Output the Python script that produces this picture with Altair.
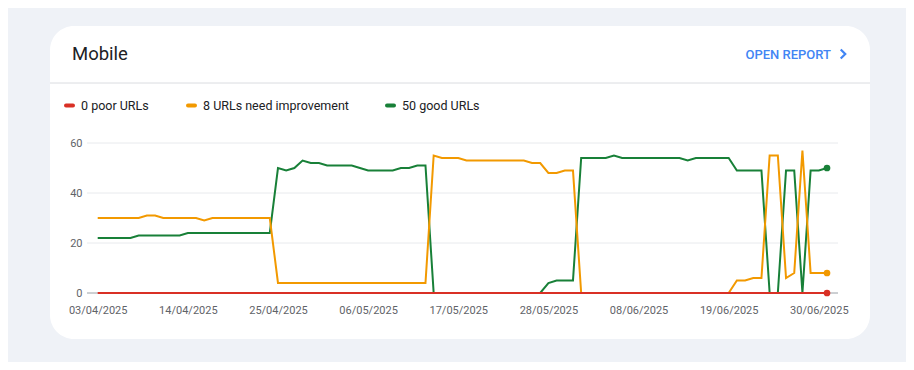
import json
import altair as alt
import pandas as pd

# ---------------- data ----------------
dates = pd.date_range("2025-04-03", "2025-07-01").strftime("%d/%m/%Y").tolist()  # 90 days
days = list(range(len(dates)))

tick_days = [0, 11, 22, 33, 44, 55, 66, 77, 88]
tick_labels = ["03/04/2025", "14/04/2025", "25/04/2025", "06/05/2025", "17/05/2025",
               "28/05/2025", "08/06/2025", "19/06/2025", "30/06/2025"]
y_ticks = [0, 20, 40, 60]

series_names = ["good", "need improvement", "poor"]
series_colors = ["#188038", "#f29900", "#d93025"]
legend_labels = ["0 poor URLs", "8 URLs need improvement", "50 good URLs"]
legend_colors = ["#d93025", "#f29900", "#188038"]

good = [22, 22, 22, 22, 22,
        23, 23, 23, 23, 23, 23,
        24, 24, 24, 24, 24, 24, 24, 24, 24, 24, 24,
        50, 49, 50, 53, 52, 52, 51, 51, 51, 51, 50, 49, 49, 49, 49, 50, 50, 51, 51,
        0, 0, 0, 0, 0, 0, 0, 0, 0, 0, 0, 0, 0, 0,
        4, 5, 5, 5,
        54, 54, 54, 54, 55, 54, 54, 54, 54, 54, 54, 54, 54, 53, 54, 54, 54, 54, 54,
        49, 49, 49, 49, 0, 0, 49, 49, 0, 49, 49, 50]

need = [30, 30, 30, 30, 30, 30, 31, 31, 30, 30, 30, 30, 30, 29,
        30, 30, 30, 30, 30, 30, 30, 30,
        4, 4, 4, 4, 4, 4, 4, 4, 4, 4, 4, 4, 4, 4, 4, 4, 4, 4, 4,
        55, 54, 54, 54, 53, 53, 53, 53, 53, 53, 53, 53, 52, 52, 48, 48, 49, 49,
        0, 0, 0, 0, 0, 0, 0, 0, 0, 0, 0, 0, 0, 0, 0, 0, 0, 0, 0,
        5, 5, 6, 6, 55, 55, 6, 8, 57, 8, 8, 8]

poor = [0] * 90

rows = []
for name, vals in zip(series_names, [good, need, poor]):
    for d, dt, v in zip(days, dates, vals):
        rows.append({"day": d, "date": dt, "series": name, "value": v})
df = pd.DataFrame(rows)

# ---------------- styling ----------------
FONT = "Roboto"
BG = "#eff2f7"
TXT = "#202124"
AX = "#5f6368"

one = alt.Data(values=[{"k": 1}])

x_scale = alt.Scale(domain=[-1.306, 90.342], nice=False, zero=False)
y_scale = alt.Scale(domain=[0, 60], nice=False)
color_scale = alt.Scale(domain=series_names, range=series_colors)

label_expr = json.dumps(tick_labels) + "[round(datum.value / 11)]"

card = alt.Chart(one).mark_rect(color="white", cornerRadius=24).encode(
    x=alt.value(-37), x2=alt.value(783), y=alt.value(-117), y2=alt.value(196))

sep = alt.Chart(one).mark_rule(color="#dadce0", strokeWidth=1).encode(
    x=alt.value(-37), x2=alt.value(783), y=alt.value(-60))

title = alt.Chart(one).mark_text(align="left", baseline="alphabetic", font=FONT,
                                 fontSize=18.5, color=TXT).encode(
    x=alt.value(-15), y=alt.value(-83.5), text=alt.value("Mobile"))

open_report = alt.Chart(one).mark_text(align="right", baseline="alphabetic", font=FONT,
                                       fontSize=13, fontWeight=500, color="#4285f4").encode(
    x=alt.value(744), y=alt.value(-84), text=alt.value("OPEN REPORT"))

chevron = alt.Chart(one).mark_point(shape="M-0.25,-0.5L0.25,0L-0.25,0.5", filled=False,
                                    color="#4285f4", strokeWidth=2.2, size=330, opacity=1).encode(
    x=alt.value(756), y=alt.value(-89))

legend_layers = []
legend_x = [-23, 99, 298]
for lx, lab, col in zip(legend_x, legend_labels, legend_colors):
    legend_layers.append(alt.Chart(one).mark_rule(color=col, strokeWidth=4, strokeCap="round").encode(
        x=alt.value(lx + 2), x2=alt.value(lx + 9), y=alt.value(-37.5)))
    legend_layers.append(alt.Chart(one).mark_text(align="left", baseline="alphabetic", font=FONT,
                                                  fontSize=12.5, color=TXT).encode(
        x=alt.value(lx + 17), y=alt.value(-33), text=alt.value(lab)))

grid = alt.Chart(alt.Data(values=[{"g": v} for v in y_ticks[1:]])).mark_rule(
    color="#e8eaed", strokeWidth=1).encode(
    y=alt.Y("g:Q", scale=y_scale), x=alt.value(0), x2=alt.value(751))

baseline = alt.Chart(alt.Data(values=[{"g": 0}])).mark_rule(
    color="#9aa0a6", strokeWidth=1).encode(
    y=alt.Y("g:Q", scale=y_scale), x=alt.value(0), x2=alt.value(751))

lines = alt.Chart(df).mark_line(strokeWidth=2).encode(
    x=alt.X("day:Q", scale=x_scale,
            axis=alt.Axis(values=tick_days, labelExpr=label_expr, title=None, grid=False,
                          domain=False, ticks=False, labelPadding=11, labelFont=FONT,
                          labelFontSize=11, labelColor=AX, zindex=1)),
    y=alt.Y("value:Q", scale=y_scale,
            axis=alt.Axis(values=y_ticks, title=None, grid=False, domain=False, ticks=False,
                          labelPadding=5, labelFont=FONT, labelFontSize=11, labelColor=AX,
                          zindex=1)),
    color=alt.Color("series:N", scale=color_scale, legend=None),
    order=alt.Order("day:Q"),
)

dots = alt.Chart(df).mark_circle(size=45, opacity=1).encode(
    x=alt.X("day:Q", scale=x_scale),
    y=alt.Y("value:Q", scale=y_scale),
    color=alt.Color("series:N", scale=color_scale, legend=None),
).transform_filter(alt.datum.day == 89)

chart = alt.layer(
    card, sep, title, open_report, chevron, *legend_layers, grid, baseline, lines, dots
).properties(
    width=751, height=150,
    padding={"left": 79, "top": 135, "right": 68, "bottom": 69},
    autosize=alt.AutoSizeParams(type="none"),
    background=BG,
).configure_view(stroke=None)

chart.save("out.html", embed_options={"renderer": "svg", "actions": False})
